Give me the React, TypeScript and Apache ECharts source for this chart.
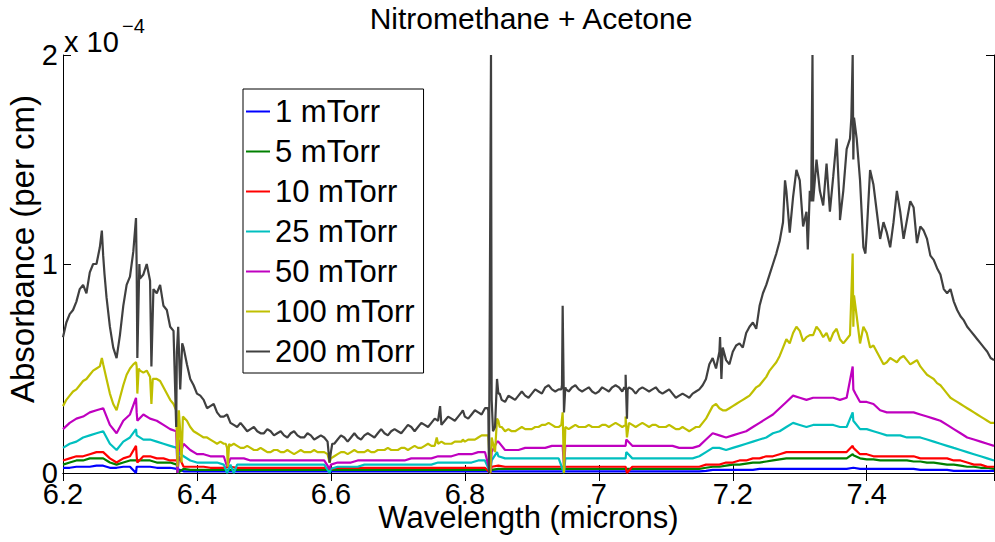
import React, { useEffect, useRef } from "react";
import * as echarts from "echarts";

// Wavelength grid (microns)
const wavelength = [
  6.20, 6.21, 6.22, 6.23, 6.24, 6.25, 6.26, 6.27, 6.28, 6.29,
  6.30, 6.31, 6.32, 6.33, 6.34, 6.35, 6.36, 6.37, 6.38, 6.39,
  6.40, 6.41, 6.42, 6.43, 6.44, 6.45, 6.46, 6.47, 6.48, 6.49,
  6.50, 6.51, 6.52, 6.53, 6.54, 6.55, 6.56, 6.57, 6.58, 6.59,
  6.60, 6.61, 6.62, 6.63, 6.64, 6.65, 6.66, 6.67, 6.68, 6.69,
  6.70, 6.71, 6.72, 6.73, 6.74, 6.75, 6.76, 6.77, 6.78, 6.79,
  6.80, 6.81, 6.82, 6.83, 6.84, 6.85, 6.86, 6.87, 6.88, 6.89,
  6.90, 6.91, 6.92, 6.93, 6.94, 6.95, 6.96, 6.97, 6.98, 6.99,
  7.00, 7.01, 7.02, 7.03, 7.04, 7.05, 7.06, 7.07, 7.08, 7.09,
  7.10, 7.11, 7.12, 7.13, 7.14, 7.15, 7.16, 7.17, 7.18, 7.19,
  7.20, 7.21, 7.22, 7.23, 7.24, 7.25, 7.26, 7.27, 7.28, 7.29,
  7.30, 7.31, 7.32, 7.33, 7.34, 7.35, 7.36, 7.37, 7.38, 7.39,
  7.40, 7.41, 7.42, 7.43, 7.44, 7.45, 7.46, 7.47, 7.48, 7.49,
  7.50, 7.51, 7.52, 7.53, 7.54, 7.55, 7.56, 7.57, 7.58, 7.59,
];

// Absorbance values in units of 1e-6 per cm (axis shows x 10^-4)
const abs200 = [
  65, 76, 82, 90, 96, 100, 104, 70, 55, 80,
  94, 98, 95, 92, 86, 80, 70, 58, 60, 45,
  38, 35, 32, 29, 27, 24, 22, 22, 21, 20,
  19, 20, 19, 18, 19, 18, 17, 18, 17, 17,
  10, 16, 17, 17, 17, 18, 18, 19, 19, 20,
  20, 21, 22, 22, 23, 24, 25, 25, 26, 27,
  27, 28, 29, 31, 35, 38, 34, 36, 37, 37,
  38, 39, 41, 40, 40, 41, 41, 40, 40, 39,
  39, 40, 41, 41, 40, 40, 40, 40, 40, 39,
  39, 38, 37, 37, 38, 40, 45, 55, 58, 54,
  58, 62, 67, 72, 80, 90, 100, 111, 135, 132,
  140, 125, 130, 135, 148, 142, 125, 155, 150, 140,
  115, 138, 112, 115, 120, 125, 121, 127, 118, 112,
  102, 95, 86, 82, 75, 70, 66, 62, 58, 54,
];
// values half-way between grid wavelengths (6.205 ... 7.585)
const abs200Mid = [
  72, 78, 88, 86, 100, 108, 84, 60, 66, 90,
  106, 93, 100, 88, 90, 78, 68, 40, 52, 42,
  37, 31, 33, 27, 28, 23, 24, 20, 22, 19,
  21, 18, 20, 17, 20, 17, 19, 16, 18, 15,
  14, 18, 15, 19, 16, 19, 17, 21, 18, 21,
  19, 23, 20, 24, 22, 26, 23, 27, 25, 29,
  26, 30, 28, 30, 22, 35, 37, 35, 39, 36,
  40, 38, 42, 39, 42, 39, 42, 39, 41, 38,
  41, 39, 42, 39, 41, 38, 41, 39, 41, 38,
  40, 36, 38, 36, 39, 42, 52, 50, 60, 52,
  61, 60, 70, 69, 86, 95, 105, 120, 115, 145,
  118, 135, 150, 128, 125, 160, 135, 160, 160, 108,
  145, 125, 120, 108, 135, 112, 130, 110, 116, 104,
  98, 88, 88, 78, 73, 68, 64, 60, 55,
];
const spikes200 = [
  [6.258, 116], [6.262, 95], [6.309, 122], [6.311, 55], [6.314, 100], [6.332, 51],
  [6.369, 22], [6.372, 70], [6.378, 62],
  [6.598, 5], [6.602, 14], [6.763, 32], [6.797, 30],
  [6.834, 31], [6.836, 0], [6.839, 200], [6.842, 20], [6.848, 45], [6.852, 38],
  [6.944, 40], [6.946, 80], [6.948, 29], [6.951, 40],
  [7.038, 41], [7.040, 47], [7.042, 26], [7.043, 40],
  [7.181, 65], [7.183, 45], [7.278, 140], [7.312, 107],
  [7.317, 130], [7.319, 200], [7.321, 130], [7.360, 121],
  [7.377, 170], [7.379, 200], [7.381, 170], [7.398, 105], [7.446, 135],
];

const abs100 = [
  32, 37, 40, 44, 47, 50, 52, 38, 30, 42,
  50, 51, 48, 46, 45, 41, 35, 30, 27, 22,
  19, 17, 16, 14, 14, 13, 13, 12, 12, 11,
  11, 10, 11, 10, 10, 10, 10, 10, 10, 10,
  7, 9, 10, 10, 10, 10, 10, 11, 11, 11,
  11, 12, 12, 12, 13, 13, 14, 14, 14, 15,
  15, 16, 17, 18, 17, 25, 20, 20, 21, 21,
  21, 22, 23, 23, 22, 22, 22, 22, 22, 22,
  22, 23, 23, 23, 23, 23, 23, 23, 23, 22,
  22, 22, 21, 21, 21, 22, 26, 32, 31, 30,
  32, 34, 36, 39, 42, 46, 51, 56, 64, 67,
  68, 65, 66, 68, 67, 67, 64, 64, 70, 62,
  67, 61, 55, 53, 54, 55, 54, 53, 51, 47,
  45, 42, 38, 35, 33, 31, 29, 27, 25, 24,
];
const abs100Mid = [
  35, 39, 42, 45, 49, 51, 45, 33, 36, 47,
  52, 49, 49, 45, 44, 38, 33, 20, 25, 20,
  18, 17, 15, 15, 12, 14, 12, 13, 11, 12,
  10, 11, 10, 11, 9, 11, 10, 11, 10, 9,
  8, 10, 9, 11, 10, 11, 10, 11, 12, 11,
  12, 11, 13, 12, 14, 13, 15, 14, 15, 15,
  16, 16, 18, 18, 10, 22, 21, 20, 22, 21,
  22, 23, 24, 22, 23, 21, 23, 22, 23, 22,
  23, 22, 24, 22, 24, 22, 24, 22, 23, 22,
  23, 21, 22, 20, 22, 24, 29, 33, 30, 31,
  33, 35, 37, 41, 44, 49, 53, 60, 62, 70,
  63, 66, 70, 65, 63, 69, 62, 66, 75, 70,
  60, 58, 52, 55, 53, 56, 52, 54, 49, 46,
  43, 40, 36, 34, 32, 30, 28, 26, 24,
];
const spikes100 = [
  [6.258, 55], [6.309, 53], [6.311, 38], [6.313, 50], [6.332, 33], [6.334, 45],
  [6.369, 30], [6.371, 3], [6.373, 30], [6.377, 5], [6.379, 27],
  [6.443, 14], [6.446, 3], [6.448, 14], [6.598, 5], [6.758, 17], [6.797, 16],
  [6.836, 18], [6.838, 0], [6.840, 17], [6.848, 26], [6.852, 22],
  [6.944, 23], [6.946, 29], [6.948, 0], [6.950, 22], [7.040, 27], [7.042, 17],
  [7.377, 85], [7.379, 105], [7.381, 85],
];

const abs50 = [
  21, 24, 26, 27, 29, 30, 31, 23, 19, 25,
  28, 29, 28, 26, 25, 23, 21, 20, 14, 11,
  9, 9, 8, 8, 8, 7, 7, 7, 6, 6,
  6, 6, 6, 6, 6, 6, 6, 6, 6, 6,
  4, 5, 5, 5, 6, 6, 6, 6, 6, 6,
  6, 6, 7, 7, 7, 7, 8, 8, 8, 9,
  9, 9, 10, 10, 10, 15, 11, 11, 11, 12,
  12, 12, 12, 13, 13, 13, 13, 13, 13, 13,
  13, 13, 13, 13, 13, 13, 13, 13, 13, 13,
  13, 13, 12, 12, 12, 13, 16, 19, 18, 17,
  18, 19, 20, 22, 24, 26, 28, 31, 34, 37,
  36, 35, 36, 36, 36, 36, 35, 36, 40, 34,
  34, 33, 30, 29, 29, 29, 29, 29, 28, 27,
  26, 25, 23, 21, 19, 17, 16, 15, 14, 13,
];
const spikes50 = [
  [6.309, 36], [6.311, 25], [6.369, 20], [6.371, 0], [6.373, 16], [6.376, 10],
  [6.445, 3], [6.598, 2], [6.838, 0], [6.848, 15], [6.946, 13], [6.948, 3],
  [7.041, 16], [7.379, 51], [7.383, 38],
];

const abs25 = [
  12, 14, 15, 17, 18, 19, 20, 14, 11, 15,
  17, 18, 16, 16, 15, 14, 13, 12, 8, 6,
  5, 5, 5, 5, 4, 4, 4, 4, 4, 4,
  4, 4, 4, 4, 4, 4, 4, 4, 4, 4,
  2, 3, 3, 3, 3, 4, 4, 4, 4, 4,
  4, 4, 4, 4, 4, 4, 5, 5, 5, 5,
  5, 5, 6, 6, 6, 8, 7, 7, 7, 7,
  7, 7, 7, 7, 7, 7, 7, 7, 7, 7,
  7, 7, 7, 7, 7, 7, 7, 7, 7, 7,
  7, 7, 7, 7, 7, 8, 10, 12, 12, 11,
  12, 13, 14, 15, 16, 17, 19, 20, 22, 24,
  23, 22, 23, 23, 23, 23, 22, 22, 25, 21,
  21, 20, 19, 18, 18, 18, 17, 17, 17, 16,
  15, 14, 13, 12, 11, 10, 9, 8, 7, 6,
];
const spikes25 = [
  [6.309, 21], [6.371, 0], [6.373, 10], [6.445, 0], [6.455, 0], [6.598, 0],
  [6.838, 0], [6.848, 10], [6.948, 0], [7.041, 10], [7.379, 29],
];

const abs10 = [
  6, 7, 8, 8, 9, 10, 10, 7, 5, 7,
  8, 8, 8, 8, 7, 7, 6, 6, 3, 3,
  3, 3, 2.5, 2.5, 2.5, 3, 2.5, 2.5, 2.5, 2.5,
  2.5, 2.5, 2.5, 2.5, 2.5, 2.5, 2.5, 2.5, 2.5, 2.5,
  2, 2.5, 2.5, 2.5, 2.5, 2.5, 2.5, 2.5, 2.5, 2.5,
  2.5, 2.5, 2.5, 2.5, 2.5, 2.5, 2.5, 2.5, 2.5, 2.5,
  2.5, 2.5, 2.5, 2.5, 3, 3.5, 3, 3, 3, 3,
  3, 3, 3, 3, 3, 3, 3, 3, 3, 3,
  3, 3, 3, 3, 3, 3, 3, 3, 3, 3,
  3, 3, 3, 3, 3, 3, 4, 4, 4, 5,
  5, 6, 6, 7, 7, 8, 8, 9, 10, 10,
  10, 10, 10, 10, 10, 10, 10, 10, 12, 9,
  9, 8, 8, 8, 8, 8, 8, 8, 7, 7,
  7, 7, 7, 6, 6, 5, 4, 4, 3, 3,
];
const spikes10 = [
  [6.309, 13], [6.311, 5], [6.371, 0], [6.373, 8], [6.838, 0], [7.042, 0], [7.379, 13],
];

const abs5 = [
  4, 5, 6, 6, 7, 7, 7, 5, 4, 5,
  6, 6, 6, 6, 5, 5, 5, 4, 2, 1.5,
  1.5, 1.5, 1.5, 1.5, 1.5, 1.5, 1.5, 1.5, 1.5, 1.5,
  1.5, 1.5, 1.5, 1.5, 1.5, 1.5, 1.5, 1.5, 1.5, 1.5,
  1.5, 1.5, 1.5, 1.5, 1.5, 1.5, 1.5, 1.5, 1.5, 1.5,
  1.5, 1.5, 1.5, 1.5, 1.5, 1.5, 1.5, 1.5, 1.5, 1.5,
  1.5, 1.5, 1.5, 1.5, 1.5, 2, 2, 2, 2, 2,
  2, 2, 2, 2, 2, 2, 2, 2, 2, 2,
  2, 2, 2, 2, 2, 2, 2, 2, 2, 2,
  2, 2, 2, 2, 2, 2, 2.5, 3, 3, 3.5,
  4, 4, 4.5, 5, 5, 5.5, 6, 6.5, 7, 7,
  7, 7, 7, 7, 7, 7, 7, 7, 8.5, 7,
  6.5, 6.5, 6, 6, 6, 6, 6, 5.5, 5.5, 5,
  5, 4.5, 4, 4, 3.5, 3, 3, 2.5, 2.5, 2,
];
const spikes5 = [[6.371, 0], [7.379, 9]];

const abs1 = [
  2.5, 2.5, 3, 3, 3, 3.5, 3.5, 2.5, 2.5, 3,
  3, 3, 3, 3, 2.5, 2.5, 2.5, 2, 0.8, 0.8,
  0.8, 0.8, 0.8, 0.8, 0.8, 0.8, 0.8, 0.8, 0.8, 0.8,
  0.8, 0.8, 0.8, 0.8, 0.8, 0.8, 0.8, 0.8, 0.8, 0.8,
  0.8, 0.8, 0.8, 0.8, 0.8, 0.8, 0.8, 0.8, 0.8, 0.8,
  0.8, 0.8, 0.8, 0.8, 0.8, 0.8, 0.8, 0.8, 0.8, 0.8,
  0.8, 0.8, 0.8, 0.8, 0.8, 0.8, 0.8, 0.8, 0.8, 0.8,
  0.8, 0.8, 0.8, 0.8, 0.8, 0.8, 0.8, 0.8, 0.8, 0.8,
  0.8, 0.8, 0.8, 0.8, 0.8, 0.8, 0.8, 0.8, 0.8, 0.8,
  0.8, 0.8, 0.8, 0.8, 0.8, 0.8, 1, 1.5, 1.5, 1.5,
  1.5, 1.5, 1.5, 1.5, 2, 2, 2, 2, 2, 2,
  2, 2, 2, 2, 2, 2, 2, 2, 2.5, 2,
  2, 2, 2, 2, 2, 2, 2, 2, 1.5, 1.5,
  1.5, 1.5, 1.5, 1, 1, 1, 1, 1, 1, 1,
];
const spikes1 = [[6.309, 0]];

const seriesNames = ["1 mTorr", "5 mTorr", "10 mTorr", "25 mTorr", "50 mTorr", "100 mTorr", "200 mTorr"];
const seriesColors = ["#0000ff", "#008000", "#ff0000", "#00bfbf", "#bf00bf", "#bfbf00", "#404040"];
const seriesValues = [abs1, abs5, abs10, abs25, abs50, abs100, abs200];
const seriesMids: (number[] | null)[] = [null, null, null, null, null, abs100Mid, abs200Mid];
const seriesSpikes = [spikes1, spikes5, spikes10, spikes25, spikes50, spikes100, spikes200];

const xTicks = { min: 6.2, max: 7.59, interval: 0.2 };
const yTicks = { min: 0, max: 200, interval: 100 };

const FONT = "'Liberation Sans', Arial, Helvetica, sans-serif";

function buildData(vals: number[], mids: number[] | null, spikes: number[][]) {
  let pts = wavelength.map((x, i) => [x, vals[i]]);
  if (mids) {
    pts = pts.concat(mids.map((v, i) => [(wavelength[i] + wavelength[i + 1]) / 2, v]));
  }
  return pts.concat(spikes).sort((a, b) => a[0] - b[0]);
}

export default function App() {
  const ref = useRef<HTMLDivElement>(null);
  useEffect(() => {
    document.body.style.margin = "0";
    if (!ref.current) return;
    const chart = echarts.init(ref.current, undefined, { renderer: "svg" });
    const axisCommon = {
      axisLine: { show: true, lineStyle: { color: "#000", width: 1 } },
      axisTick: { show: true, inside: true, length: 8, lineStyle: { color: "#000" } },
      splitLine: { show: false },
    };
    chart.setOption({
      animation: false,
      backgroundColor: "#fff",
      grid: { left: 63, top: 55, width: 931, height: 418, containLabel: false, outerBoundsMode: "none" },
      graphic: [
        {
          type: "text",
          style: { text: "Nitromethane + Acetone", x: 531, y: 18, textAlign: "center", textVerticalAlign: "middle", fontSize: 30, fontFamily: FONT, fill: "#000" },
        },
        {
          type: "text",
          style: { text: "x 10", x: 64, y: 42, textAlign: "left", textVerticalAlign: "middle", fontSize: 29, fontFamily: FONT, fill: "#000" },
        },
        {
          type: "text",
          style: { text: "\u22124", x: 122, y: 26, textAlign: "left", textVerticalAlign: "middle", fontSize: 20, fontFamily: FONT, fill: "#000" },
        },
        {
          type: "text",
          x: 22,
          y: 249,
          rotation: Math.PI / 2,
          style: { text: "Absorbance (per cm)", x: 0, y: 0, textAlign: "center", textVerticalAlign: "middle", fontSize: 33, fontFamily: FONT, fill: "#000" },
        },
      ],
      legend: {
        orient: "vertical",
        left: 243,
        top: 89,
        padding: [7, 9, 6, 3],
        itemGap: 9,
        itemWidth: 24,
        itemHeight: 2,
        backgroundColor: "#fff",
        borderColor: "#000",
        borderWidth: 1,
        borderRadius: 0,
        textStyle: { fontSize: 31, fontFamily: FONT, color: "#000" },
        data: seriesNames.map((n, i) => ({
          name: n,
          icon: "rect",
          itemStyle: { color: seriesColors[i], borderWidth: 0 },
          lineStyle: { color: seriesColors[i], width: 0 },
        })),
      },
      xAxis: [
        {
          type: "value",
          ...xTicks,
          position: "bottom",
          ...axisCommon,
          axisLabel: {
            fontSize: 29,
            lineHeight: 22,
            fontFamily: FONT,
            color: "#000",
            margin: 10,
            showMaxLabel: false,
            formatter: (v: number) => String(parseFloat(v.toFixed(1))),
          },
          name: "Wavelength (microns)",
          nameLocation: "middle",
          nameGap: 31,
          nameMoveOverlap: false,
          nameTextStyle: { fontSize: 31, lineHeight: 26, fontFamily: FONT, color: "#000" },
        },
        {
          type: "value",
          ...xTicks,
          position: "top",
          ...axisCommon,
          axisLabel: { show: false },
        },
      ],
      yAxis: [
        {
          type: "value",
          ...yTicks,
          position: "left",
          ...axisCommon,
          axisLabel: {
            fontSize: 29,
            lineHeight: 20,
            fontFamily: FONT,
            color: "#000",
            margin: 5,
            formatter: (v: number) => String(v / 100),
          },
        },
        {
          type: "value",
          ...yTicks,
          position: "right",
          ...axisCommon,
          axisLabel: { show: false },
        },
      ],
      series: seriesNames.map((name, i) => ({
        name,
        type: "line",
        xAxisIndex: 0,
        yAxisIndex: 0,
        data: buildData(seriesValues[i], seriesMids[i], seriesSpikes[i]),
        showSymbol: false,
        symbol: "none",
        lineStyle: { color: seriesColors[i], width: 2.2 },
        itemStyle: { color: seriesColors[i] },
        emphasis: { disabled: true },
        z: 2 + i,
      })),
    });
    return () => chart.dispose();
  }, []);
  return <div ref={ref} style={{ width: 995, height: 542 }} />;
}
